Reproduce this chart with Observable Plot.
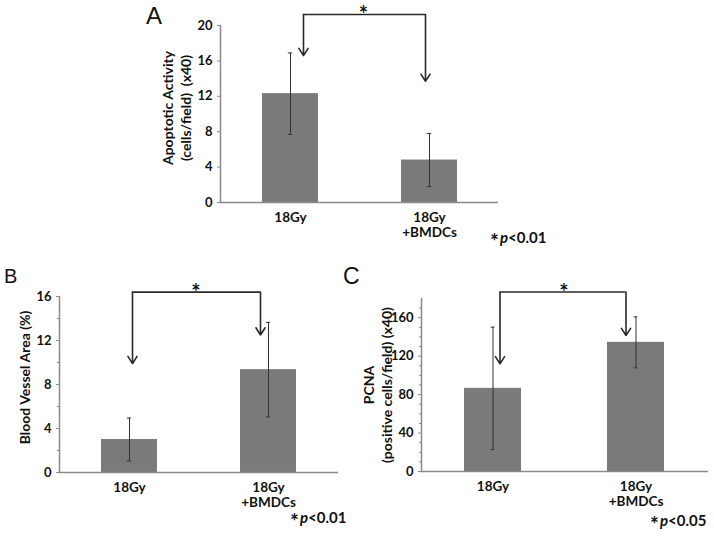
<!DOCTYPE html>
<html><head><meta charset="utf-8">
<script src="https://cdn.jsdelivr.net/npm/d3@7"></script>
<script src="https://cdn.jsdelivr.net/npm/@observablehq/plot@0.6"></script>
<style>
body{margin:0;background:#fff;}
#fig{position:relative;width:714px;height:536px;overflow:hidden;background:#fff;}
#fig svg{position:absolute;overflow:visible;}
.letter{position:absolute;font-family:"Liberation Sans",Arial,sans-serif;line-height:1;color:#111;}
.pval{position:absolute;font-family:Lato,sans-serif;font-weight:bold;font-size:15px;line-height:1;color:#111;white-space:nowrap;}
.pval .st{font-size:21px;line-height:0;position:relative;top:6px;margin-right:1px;}
</style></head><body><div id="fig"></div>
<script>
// ---- data ----
const groups = ["18Gy", "18Gy\n+BMDCs"];
const apoptosisMean = [12.3, 4.8];
const apoptosisErr = [4.6, 3.0];
const vesselMean = [3.0, 9.35];
const vesselErr = [1.95, 4.3];
const pcnaMean = [86.5, 134.4];
const pcnaErr = [63.7, 26.5];
const apoptosisTicks = [0, 4, 8, 12, 16, 20];
const vesselTicks = [0, 4, 8, 12, 16];
const pcnaTicks = [0, 40, 80, 120, 160];
const panelLetters = ["A", "B", "C"];
const pValues = ["0.01", "0.01", "0.05"];
const yLabels = ["Apoptotic Activity\n(cells/field)  (x40)", "Blood Vessel Area (%)", "PCNA\n(positive cells/field) (x40)"];
// bracket levels (data units): [top, left tip, right tip]
const apoptosisBracket = [21.25, 16.6, 13.7];
const vesselBracket = [16.4, 9.9, 12.5];
const pcnaBracket = [186.8, 112, 141.5];

const fig = document.getElementById("fig");

function panel(cfg) {
  const data = groups.map((g, i) => ({g, v: cfg.mean[i], e: cfg.err[i]}));
  const W = cfg.width - cfg.marginLeft - cfg.marginRight;
  const bw = 0.2 * W;
  const [bTop, tipL, tipR] = cfg.bracket;
  const ink = "#111", axisGray = "#8a8a8a", bracketInk = "#2a2a2a";
  const svg = Plot.plot({
    width: cfg.width, height: cfg.height,
    marginLeft: cfg.marginLeft, marginRight: cfg.marginRight,
    marginTop: cfg.marginTop, marginBottom: cfg.marginBottom,
    style: {fontFamily: "Lato, sans-serif", color: ink, background: "transparent", overflow: "visible"},
    x: {domain: groups, paddingInner: 0.6, paddingOuter: 0.3, axis: null},
    y: {domain: cfg.yDomain, axis: null},
    marks: [
      Plot.barY(data, {x: "g", y: "v", fill: "#7a7a7a"}),
      Plot.ruleX(data, {x: "g", y1: d => d.v - d.e, y2: d => d.v + d.e, stroke: "#333", strokeWidth: 1}),
      Plot.tickY(data, {x: "g", y: d => d.v + d.e, stroke: "#333", strokeWidth: 1, insetLeft: bw / 2 - 2, insetRight: bw / 2 - 2}),
      Plot.tickY(data, {x: "g", y: d => d.v - d.e, stroke: "#333", strokeWidth: 1, insetLeft: bw / 2 - 2, insetRight: bw / 2 - 2}),
      Plot.ruleY([0], {stroke: axisGray, strokeWidth: 1.5}),
      Plot.frame({anchor: "left", stroke: axisGray, strokeWidth: 1.5}),
      Plot.axisY({ticks: cfg.minor, tickSize: 2, stroke: axisGray, tickFormat: () => "", label: null}),
      Plot.axisY({ticks: cfg.ticks, tickSize: 3, stroke: axisGray, tickPadding: 5, fontSize: 13, fontWeight: "bold", label: null}),
      Plot.axisX({tickSize: 0, tickPadding: 9, fontSize: 13.5, fontWeight: "bold", lineHeight: 1.1, label: null}),
      Plot.text([cfg.yLabel], {frameAnchor: "left", rotate: -90, textAnchor: "middle", lineAnchor: "middle", dx: cfg.labelDx, dy: cfg.labelDy, fontSize: 14, fontWeight: "bold", lineHeight: 1.3}),
      // significance bracket
      Plot.ruleY([bTop], {x1: () => groups[0], x2: () => groups[1], stroke: bracketInk, strokeWidth: 1.6, insetLeft: bw / 2 + cfg.offL, insetRight: bw / 2 - cfg.offR}),
      Plot.arrow([{g: groups[0], t: tipL}], {x: "g", y1: () => bTop, y2: "t", dx: cfg.offL, stroke: bracketInk, strokeWidth: 1.6, headLength: 8, headAngle: 65}),
      Plot.arrow([{g: groups[1], t: tipR}], {x: "g", y1: () => bTop, y2: "t", dx: cfg.offR, stroke: bracketInk, strokeWidth: 1.6, headLength: 8, headAngle: 65}),
      Plot.text([bTop], {y: d => d, text: () => "*", dx: cfg.starDx, dy: 1, fontSize: 22, fontWeight: "bold", lineAnchor: "middle"})
    ]
  });
  svg.style.left = cfg.left + "px";
  svg.style.top = cfg.top + "px";
  fig.appendChild(svg);

  const L = document.createElement("div");
  L.className = "letter";
  L.textContent = cfg.letter;
  L.style.fontSize = cfg.letterSize + "px";
  L.style.left = cfg.letterPos[0] + "px";
  L.style.top = cfg.letterPos[1] + "px";
  fig.appendChild(L);

  const P = document.createElement("div");
  P.className = "pval";
  P.innerHTML = '<span class="st">*</span><i>p</i>&lt;' + cfg.p;
  P.style.left = cfg.pPos[0] + "px";
  P.style.top = cfg.pPos[1] + "px";
  fig.appendChild(P);
}

panel({
  mean: apoptosisMean, err: apoptosisErr, ticks: apoptosisTicks, minor: [],
  yDomain: [0, 20], yLabel: yLabels[0], bracket: apoptosisBracket,
  left: 140, top: 0, width: 370, height: 250,
  marginLeft: 80, marginRight: 12, marginTop: 25, marginBottom: 48,
  labelDx: -44, labelDy: -6, offL: 13, offR: -4, starDx: 4,
  letter: panelLetters[0], letterSize: 24, letterPos: [146, 4], p: pValues[0], pPos: [490, 230]
});
panel({
  mean: vesselMean, err: vesselErr, ticks: vesselTicks, minor: [2, 6, 10, 14],
  yDomain: [0, 16], yLabel: yLabels[1], bracket: vesselBracket,
  left: 0, top: 260, width: 345, height: 260,
  marginLeft: 59, marginRight: 7, marginTop: 36, marginBottom: 48,
  labelDx: -35, labelDy: -7, offL: 3, offR: -8, starDx: -3,
  letter: panelLetters[1], letterSize: 20, letterPos: [4, 266], p: pValues[1], pPos: [290, 510]
});
panel({
  mean: pcnaMean, err: pcnaErr, ticks: pcnaTicks, minor: d3.range(10, 180, 10).filter(v => v % 40 !== 0),
  yDomain: [0, 180], yLabel: yLabels[2], bracket: pcnaBracket,
  left: 340, top: 260, width: 374, height: 260,
  marginLeft: 81, marginRight: 6, marginTop: 38, marginBottom: 49,
  labelDx: -44, labelDy: 0, offL: 7, offR: -10, starDx: -1,
  letter: panelLetters[2], letterSize: 23, letterPos: [343, 265], p: pValues[2], pPos: [650, 513]
});
</script>
</body></html>
